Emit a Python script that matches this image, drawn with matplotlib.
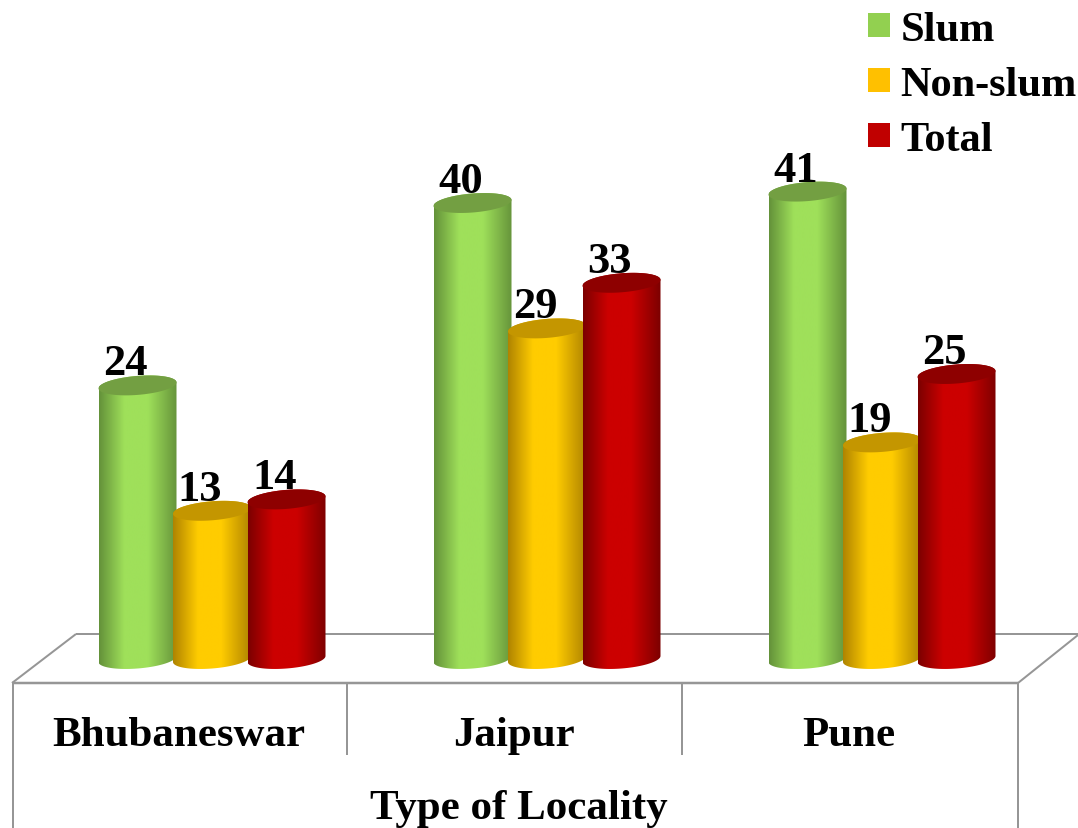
import numpy as np
import matplotlib
matplotlib.use("Agg")
import matplotlib.pyplot as plt
from matplotlib.colors import LinearSegmentedColormap
from matplotlib.patches import Patch, Polygon

W, H = 1078, 829

cities = ["Bhubaneswar", "Jaipur", "Pune"]
series_names = ["Slum", "Non-slum", "Total"]
slum = [24, 40, 41]
non_slum = [13, 29, 19]
total = [14, 33, 25]

legend_colors = ["#92d050", "#ffc000", "#c00000"]
edge_colors = ["#64923a", "#b08400", "#7c0000"]
mid_colors = ["#9fe05a", "#ffcc00", "#cc0000"]
cap_colors = ["#739f42", "#c49600", "#8e0000"]
frame_color = "#969696"

plt.rcParams["font.family"] = ["Liberation Serif", "DejaVu Serif"]
plt.rcParams["font.weight"] = "bold"
plt.rcParams["font.size"] = 31

fig = plt.figure(figsize=(W / 100, H / 100), dpi=100, facecolor="white")
# axes stops at the front edge of the floor so tick labels hang below it
floor_y = 684
ax = fig.add_axes([0, (H - floor_y) / H, 1, floor_y / H])

# scales: one category = 335 px, one unit = 11.4 px
cat_px = 335.0
val_px = 11.4
x0_px = 212.0
y0_px = 660.0
ax.set_xlim(-x0_px / cat_px, (W - x0_px) / cat_px)
ax.set_ylim((y0_px - floor_y) / val_px, y0_px / val_px)

bar_w = 78 / cat_px
step = 74.5 / cat_px
semi_minor = 9.5 / val_px
shear = 3.0 / val_px


def px_line(xs, ys, lw=2.0):
    ax.plot([x / W for x in xs], [1 - y / H for y in ys], color=frame_color,
            lw=lw * 0.72, transform=fig.transFigure, clip_on=False, zorder=1,
            solid_capstyle="butt")


# floor and table frame
px_line([76, W], [635, 635])
px_line([12, 76], [684, 635])
px_line([1018, W], [684, 636])
px_line([12, 1018], [684, 684], lw=2.5)
px_line([13, 13], [684, H])
px_line([1018, 1018], [684, H])
px_line([347, 347], [684, 756])
px_line([682, 682], [684, 756])


def cylinder(cx, value, k, z):
    a = bar_w / 2
    t_low = np.linspace(np.pi, 2 * np.pi, 60)
    t_up = np.linspace(0, np.pi, 60)
    t_all = np.linspace(0, 2 * np.pi, 120)

    def ring(t, level):
        return np.column_stack([cx + a * np.cos(t),
                                level + semi_minor * np.sin(t) + shear * np.cos(t)])

    body = np.vstack([ring(t_low, 0), ring(t_up, value)])
    clip = Polygon(body, closed=True, transform=ax.transData, fc="none", ec="none")
    ax.add_patch(clip)

    cmap = LinearSegmentedColormap.from_list(
        "cyl", [(0, edge_colors[k]), (0.32, mid_colors[k]), (0.62, mid_colors[k]), (1, edge_colors[k])])
    grad = np.linspace(0, 1, 200).reshape(1, -1)
    img = ax.imshow(grad, cmap=cmap, aspect="auto", zorder=z, interpolation="bilinear",
                    extent=[cx - a, cx + a, -2, value + 2])
    img.set_clip_path(clip)

    cap = Polygon(ring(t_all, value), closed=True, fc=cap_colors[k], ec="none", zorder=z + 0.01)
    ax.add_patch(cap)


series = [slum, non_slum, total]
xlim, ylim = ax.get_xlim(), ax.get_ylim()
for k, values in enumerate(series):
    for i, v in enumerate(values):
        cx = i + (k - 1) * step
        cylinder(cx, v, k, 3 + k)
        ax.annotate(str(v), (cx, v), xytext=(-12, 11), textcoords="offset pixels",
                    ha="center", va="baseline", fontsize=32, fontweight="bold",
                    color="black", zorder=10)
ax.set_xlim(xlim)
ax.set_ylim(ylim)

for side in ax.spines.values():
    side.set_visible(False)
ax.patch.set_visible(False)
ax.set_yticks([])
ax.set_xticks(np.arange(len(cities)) - 33 / cat_px)
ax.set_xticklabels(cities, fontsize=31, fontweight="bold")
ax.tick_params(axis="x", length=0, pad=24)
ax.set_xlabel("Type of Locality", fontsize=31, fontweight="bold")
ax.xaxis.set_label_coords(519 / W, -(790 - floor_y) / floor_y)

handles = [Patch(fc=c, ec="none") for c in legend_colors]
ax.legend(handles, series_names, loc="upper left", frameon=False,
          bbox_to_anchor=(868 / W, 1 - 12 / floor_y), borderpad=0, borderaxespad=0,
          handlelength=0.52, handleheight=0.52, handletextpad=0.24, labelspacing=0.4,
          prop={"size": 30.5, "weight": "bold"})

fig.savefig("out.png", dpi=100)
